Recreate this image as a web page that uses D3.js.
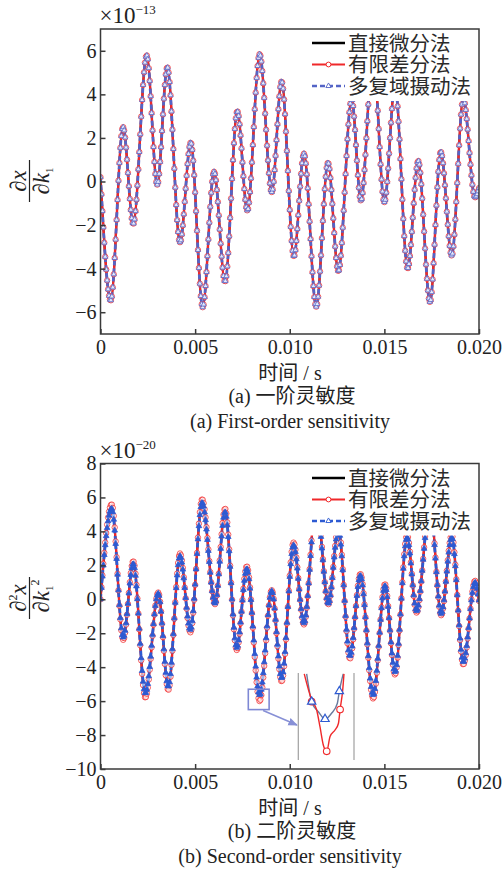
<!DOCTYPE html>
<html>
<head>
<meta charset="utf-8">
<script src="https://cdn.jsdelivr.net/npm/d3@7"></script>
<style>
  body { margin: 0; background: #fff; }
</style>
</head>
<body>
<svg id="chart" width="503" height="869"></svg>
<script>
// ---- data (extrema of each trace) ----
// (a) first-order sensitivity, x 1e-13
const topTime = [0, 0.00054, 0.00119, 0.00173, 0.00244, 0.0030, 0.00353, 0.0042, 0.00477, 0.0054,
  0.0060, 0.00658, 0.00723, 0.00776, 0.00841, 0.00905, 0.00957, 0.01022, 0.01075, 0.0114,
  0.01202, 0.01257, 0.01327, 0.01376, 0.0144, 0.0150, 0.01556, 0.01623, 0.01679, 0.01741,
  0.01798, 0.01856, 0.01917, 0.01979, 0.0200];
const topDirect = [0.2, -5.47, 2.5, -1.95, 5.8, -0.15, 5.25, -2.8, 1.79, -5.77,
  0.46, -4.6, 3.23, -1.34, 5.85, -0.5, 4.6, -3.44, 1.28, -5.75,
  0.87, -4.12, 3.8, -0.88, 5.8, -0.96, 4.4, -4.0, 0.95, -5.54,
  1.37, -3.4, 3.8, -0.73, -0.3];
const topFD = topDirect.slice();
const topMCP = topDirect.slice();

// (b) second-order sensitivity, x 1e-20
const bottomTime = [0, 0.00059, 0.0012, 0.00173, 0.00237, 0.00305, 0.00358, 0.0042, 0.00475, 0.00537,
  0.00605, 0.00658, 0.0072, 0.00773, 0.00841, 0.00905, 0.00957, 0.0102, 0.01075, 0.0114,
  0.01204, 0.01257, 0.01318, 0.01373, 0.01441, 0.01503, 0.01556, 0.0162, 0.0167, 0.01741,
  0.0180, 0.01856, 0.01917, 0.01979, 0.0200];
const bottomDirect = [0, 5.35, -2.25, 2.1, -5.55, 0.35, -5.15, 2.55, -1.8, 5.7,
  -0.25, 5.15, -2.85, 1.8, -5.65, 0.5, -4.65, 3.2, -1.4, 5.7,
  -0.25, 4.1, -3.35, 1.4, -5.65, 0.8, -4.3, 3.65, -0.7, 5.5,
  -0.85, 3.65, -3.7, 1.0, -0.1];
const bottomFD = [0, 5.6, -2.4, 2.25, -5.8, 0.4, -5.35, 2.7, -1.95, 5.9,
  -0.3, 5.35, -3.0, 1.95, -6.0, 0.55, -4.85, 3.35, -1.5, 5.9,
  -0.3, 4.25, -3.5, 1.5, -5.85, 0.9, -4.45, 3.8, -0.8, 5.7,
  -0.95, 3.8, -3.85, 1.1, -0.1];
const bottomMCP = bottomDirect.slice();

// inset (zoom of the trough near t = 0.0084)
const insetFDTime = [0.008332, 0.008372, 0.008399, 0.008417, 0.008435, 0.008453, 0.008471, 0.008498, 0.008516, 0.008525, 0.008539, 0.008546];
const insetFDValue = [-5.31, -5.61, -5.725, -5.92, -6.13, -6.2, -6.03, -5.955, -5.88, -5.72, -5.5, -5.31];
const insetFDMarkTime = [0.008372, 0.008453, 0.008525];
const insetFDMarkValue = [-5.63, -6.2, -5.72];
const insetMCPTime = [0.008345, 0.008372, 0.008408, 0.008444, 0.00848, 0.00851, 0.008521, 0.008542];
const insetMCPValue = [-5.31, -5.63, -5.745, -5.83, -5.76, -5.65, -5.51, -5.31];
const insetMCPMarkTime = [0.008372, 0.008444, 0.008521];
const insetMCPMarkValue = [-5.63, -5.83, -5.51];

const xTicks = [0, 0.005, 0.010, 0.015, 0.020];
const topYTicks = [-6, -4, -2, 0, 2, 4, 6];
const bottomYTicks = [-10, -8, -6, -4, -2, 0, 2, 4, 6, 8];
const legendLabels = ["直接微分法", "有限差分法", "多复域摄动法"];
const markerStep = 0.00005;

const SERIF = "'Liberation Serif', 'Times New Roman', serif";
const CJK = "'Noto Sans CJK SC', sans-serif";
const RED = "#f0282a";

const svg = d3.select("#chart");

// find y on a drawn path for a given screen x
function tracer(node) {
  const L = node.getTotalLength();
  const xs = [], ys = [];
  for (let s = 0; s <= L; s += 1) {
    const p = node.getPointAtLength(s);
    xs.push(p.x); ys.push(p.y);
  }
  return function (px) {
    let i = d3.bisectLeft(xs, px);
    if (i <= 0) return ys[0];
    if (i >= xs.length) return ys[ys.length - 1];
    const x0 = xs[i - 1], x1 = xs[i];
    const f = x1 === x0 ? 0 : (px - x0) / (x1 - x0);
    return ys[i - 1] + f * (ys[i] - ys[i - 1]);
  };
}

function drawPanel(p) {
  const x = d3.scaleLinear().domain([0, 0.02]).range([p.left, p.right]);
  const y = d3.scaleLinear().domain(p.yDomain).range([p.bottom, p.top]);
  const g = svg.append("g");

  svg.append("clipPath").attr("id", "clip-" + p.id)
    .append("rect")
    .attr("x", p.left).attr("y", p.top)
    .attr("width", p.right - p.left).attr("height", p.bottom - p.top);

  const plot = g.append("g").attr("clip-path", `url(#clip-${p.id})`);
  const line = d3.line().x(d => x(d[0])).y(d => y(d[1])).curve(d3.curveMonotoneX);

  // lines
  plot.append("path").datum(d3.zip(p.time, p.direct))
    .attr("d", line).attr("fill", "none").attr("stroke", "#000").attr("stroke-width", 2);
  const redPath = plot.append("path").datum(d3.zip(p.time, p.fd))
    .attr("d", line).attr("fill", "none").attr("stroke", RED).attr("stroke-width", 2.4);
  const bluePath = plot.append("path").datum(d3.zip(p.time, p.mcp))
    .attr("d", line).attr("fill", "none").attr("stroke", p.blue)
    .attr("stroke-width", 2.8).attr("stroke-dasharray", "5,3");

  // markers at each time step
  const steps = d3.range(0, 0.02 + 1e-9, markerStep);
  const redY = tracer(redPath.node());
  const blueY = tracer(bluePath.node());

  plot.append("g").selectAll("circle").data(steps).join("circle")
    .attr("cx", t => x(t)).attr("cy", t => redY(x(t)))
    .attr("r", 2.7).attr("fill", "#fff").attr("fill-opacity", 0.55)
    .attr("stroke", RED).attr("stroke-width", 1).attr("stroke-opacity", 0.75);

  const tri = d3.symbol().type(d3.symbolTriangle).size(p.triSize);
  plot.append("g").selectAll("path").data(steps).join("path")
    .attr("d", tri)
    .attr("transform", t => `translate(${x(t)},${blueY(x(t))})`)
    .attr("fill", p.triFill).attr("stroke", p.blue).attr("stroke-width", 0.8);

  // legend (white box hides the curves underneath)
  const lg = g.append("g");
  lg.append("rect").attr("x", 304).attr("y", p.top + 1)
    .attr("width", p.right - 304 - 1).attr("height", 71).attr("fill", "#fff");
  const rows = p.legendRows;
  lg.append("line").attr("x1", 312).attr("x2", 345).attr("y1", rows[0]).attr("y2", rows[0])
    .attr("stroke", "#000").attr("stroke-width", 2.5);
  lg.append("line").attr("x1", 312).attr("x2", 345).attr("y1", rows[1]).attr("y2", rows[1])
    .attr("stroke", RED).attr("stroke-width", 2.2);
  lg.append("circle").attr("cx", 328.5).attr("cy", rows[1]).attr("r", 2.4)
    .attr("fill", "#fff").attr("stroke", RED).attr("stroke-width", 1);
  lg.append("line").attr("x1", 312).attr("x2", 345).attr("y1", rows[2]).attr("y2", rows[2])
    .attr("stroke", p.blue).attr("stroke-width", 2.4).attr("stroke-dasharray", "5,3");
  lg.append("path").attr("d", d3.symbol().type(d3.symbolTriangle).size(12))
    .attr("transform", `translate(328.5,${rows[2]})`)
    .attr("fill", "#fff").attr("stroke", p.blue).attr("stroke-width", 0.9);
  lg.selectAll("text.lab").data(legendLabels).join("text")
    .attr("class", "lab")
    .attr("x", 348).attr("y", (d, i) => rows[i] + 7.5)
    .style("font-family", CJK).style("font-size", "20.5px").attr("fill", "#2a2a2a")
    .text(d => d);

  // frame
  g.append("rect").attr("x", p.left).attr("y", p.top)
    .attr("width", p.right - p.left).attr("height", p.bottom - p.top)
    .attr("fill", "none").attr("stroke", "#3a3a3a").attr("stroke-width", 1.5);

  // axes
  const xAxis = g.append("g").attr("transform", `translate(0,${p.bottom})`)
    .call(d3.axisBottom(x).tickValues(xTicks)
      .tickFormat(d => d === 0 ? "0" : d3.format(".3f")(d))
      .tickSizeInner(-5).tickSizeOuter(0).tickPadding(6));
  const yAxis = g.append("g").attr("transform", `translate(${p.left},0)`)
    .call(d3.axisLeft(y).tickValues(p.yTicks).tickSizeInner(-5).tickSizeOuter(0).tickPadding(4));
  [xAxis, yAxis].forEach(a => {
    a.attr("font-family", null).attr("font-size", null);
    a.select(".domain").remove();
    a.selectAll(".tick line").attr("stroke", "#3a3a3a").attr("stroke-width", 1.5);
    a.selectAll("text").style("font-family", SERIF).style("font-size", "20px").attr("fill", "#222");
  });

  // exponent
  const ex = g.append("text").attr("x", p.left - 1).attr("y", p.top - 6)
    .style("font-family", SERIF).style("font-size", "23px").attr("fill", "#222");
  ex.append("tspan").text("×10");
  ex.append("tspan").style("font-size", "13px").attr("dy", -9).text(p.exponent);

  // y label as a fraction
  const yl = g.append("g").attr("transform", `translate(29.5,${p.labelY}) rotate(-90)`)
    .style("font-family", SERIF).style("font-size", "23px").attr("fill", "#222");
  const num = yl.append("text").attr("x", 0).attr("y", -4).attr("text-anchor", "middle");
  num.append("tspan").text("∂");
  if (p.second) num.append("tspan").style("font-size", "12px").attr("dy", -9).text("2");
  num.append("tspan").style("font-style", "italic").attr("dy", p.second ? 9 : 0).text("x");
  yl.append("line").attr("x1", -21).attr("x2", 21).attr("y1", 0).attr("y2", 0)
    .attr("stroke", "#222").attr("stroke-width", 1.2);
  const den = yl.append("text").attr("x", p.second ? 2 : 0).attr("y", 19).attr("text-anchor", "middle");
  den.append("tspan").text("∂");
  den.append("tspan").style("font-style", "italic").text("k");
  den.append("tspan").style("font-size", "11px").attr("dy", 4).text("1");
  if (p.second) den.append("tspan").style("font-size", "12px").attr("dy", -14).text("2");

  // captions
  const xl = g.append("text").attr("x", 290).attr("y", p.bottom + 46)
    .attr("text-anchor", "middle").attr("fill", "#222").style("font-size", "20px");
  xl.append("tspan").style("font-family", CJK).text("时间");
  xl.append("tspan").style("font-family", SERIF).text(" / s");

  const c1 = g.append("text").attr("x", 292).attr("y", p.bottom + 69)
    .attr("text-anchor", "middle").attr("fill", "#222").style("font-size", "20px");
  c1.append("tspan").style("font-family", SERIF).text(p.tag + "  ");
  c1.append("tspan").style("font-family", CJK).text(p.cnCaption);

  g.append("text").attr("x", 290).attr("y", p.bottom + 94)
    .attr("text-anchor", "middle").attr("fill", "#222").style("font-size", "20px")
    .style("font-family", SERIF).text(p.tag + " " + p.enCaption);

  return { x, y, g };
}

drawPanel({
  id: "a", left: 100.5, right: 479, top: 29, bottom: 334, yDomain: [-7, 7], yTicks: topYTicks,
  time: topTime, direct: topDirect, fd: topFD, mcp: topMCP,
  blue: "#5464c6", triFill: "#e6e8fa", triSize: 12, legendRows: [43, 64.5, 86],
  exponent: "−13", labelY: 181, second: false,
  tag: "(a)", cnCaption: "一阶灵敏度", enCaption: "First-order sensitivity"
});

const pb = drawPanel({
  id: "b", left: 100.5, right: 479, top: 463.5, bottom: 769, yDomain: [-10, 8], yTicks: bottomYTicks,
  time: bottomTime, direct: bottomDirect, fd: bottomFD, mcp: bottomMCP,
  blue: "#2d5ad2", triFill: "#2d5ad2", triSize: 14, legendRows: [478, 499.5, 521],
  exponent: "−20", labelY: 598, second: true,
  tag: "(b)", cnCaption: "二阶灵敏度", enCaption: "Second-order sensitivity"
});

// ---- inset: zoom of the trough near 0.0084 ----
const ix = d3.scaleLinear().domain([0.0083, 0.0086]).range([298.3, 354]);
const iy = d3.scaleLinear().domain([-5.3, -6.3]).range([673, 760]);
const ig = pb.g.append("g");

// box on the main curve and the arrow
const bx0 = pb.x(0.00781), bx1 = pb.x(0.00891);
const by0 = pb.y(-5.3), by1 = pb.y(-6.5);
ig.append("rect").attr("x", bx0).attr("y", by0).attr("width", bx1 - bx0).attr("height", by1 - by0)
  .attr("fill", "none").attr("stroke", "#7e88d4").attr("stroke-width", 1.6);
svg.append("defs").append("marker").attr("id", "arrow")
  .attr("viewBox", "0 0 10 10").attr("refX", 9).attr("refY", 5)
  .attr("markerWidth", 6).attr("markerHeight", 6).attr("orient", "auto")
  .append("path").attr("d", "M0,1L10,5L0,9Z").attr("fill", "#8790d6");
ig.append("line").attr("x1", bx1 - 6).attr("y1", by1 + 1).attr("x2", 297).attr("y2", 725)
  .attr("stroke", "#8790d6").attr("stroke-width", 1.6).attr("marker-end", "url(#arrow)");

ig.selectAll("line.edge").data([0.0083, 0.0086]).join("line").attr("class", "edge")
  .attr("x1", d => ix(d)).attr("x2", d => ix(d)).attr("y1", 673).attr("y2", 760)
  .attr("stroke", "#a0a0a0").attr("stroke-width", 1.2);

const iline = d3.line().x(d => ix(d[0])).y(d => iy(d[1])).curve(d3.curveMonotoneX);
ig.append("path").datum(d3.zip(insetMCPTime, insetMCPValue)).attr("d", iline)
  .attr("fill", "none").attr("stroke", "#687a9e").attr("stroke-width", 1.4);
ig.append("path").datum(d3.zip(insetFDTime, insetFDValue)).attr("d", iline)
  .attr("fill", "none").attr("stroke", RED).attr("stroke-width", 1.4);
ig.selectAll("circle").data(d3.zip(insetFDMarkTime, insetFDMarkValue)).join("circle")
  .attr("cx", d => ix(d[0])).attr("cy", d => iy(d[1])).attr("r", 3.3)
  .attr("fill", "#fff").attr("stroke", RED).attr("stroke-width", 1.1);
ig.selectAll("path.tri").data(d3.zip(insetMCPMarkTime, insetMCPMarkValue)).join("path")
  .attr("class", "tri")
  .attr("d", d3.symbol().type(d3.symbolTriangle).size(30))
  .attr("transform", d => `translate(${ix(d[0])},${iy(d[1])})`)
  .attr("fill", "#fff").attr("stroke", "#2d5ad2").attr("stroke-width", 1.2);
</script>
</body>
</html>
